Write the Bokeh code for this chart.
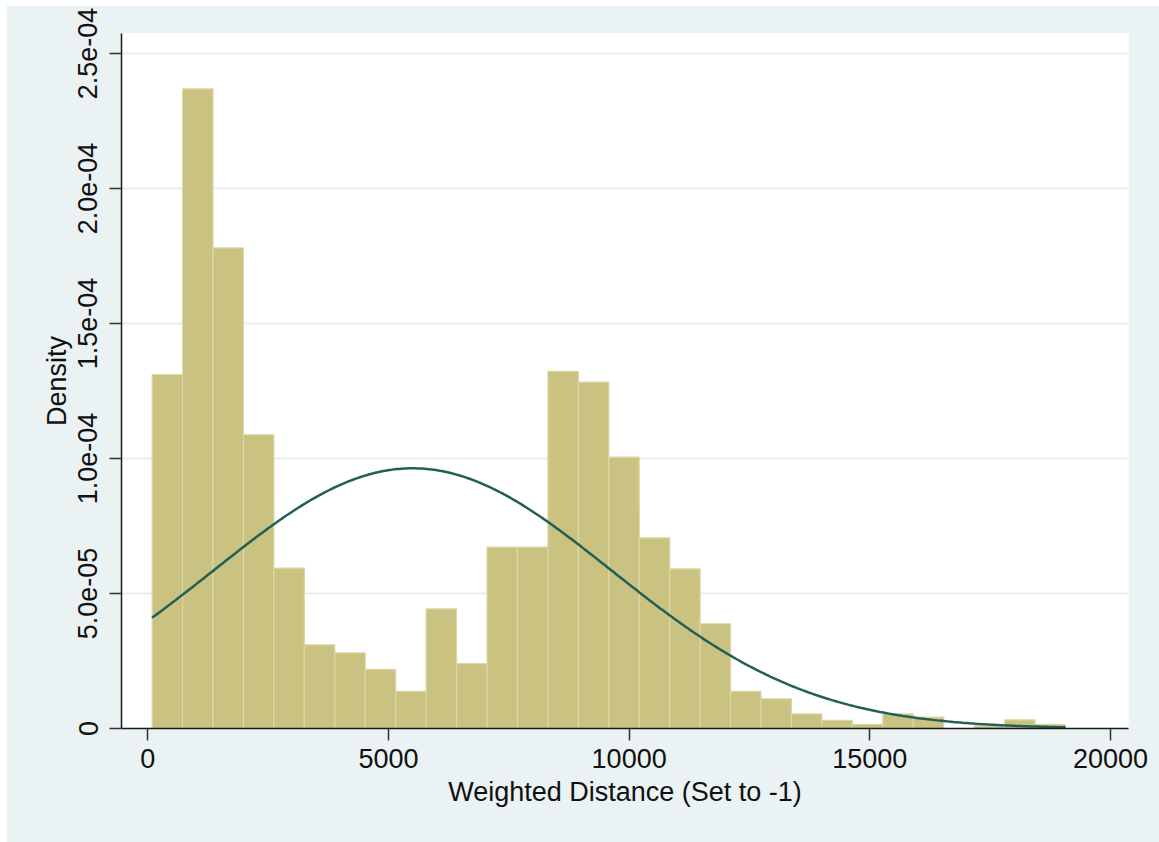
import numpy as np
from bokeh.plotting import figure
from bokeh.models import FixedTicker, CustomJSTickFormatter, ColumnDataSource
from bokeh.embed import file_html
from bokeh.resources import INLINE

# Histogram of weighted distance: bin layout and density per bin
bin_start = 90.0
bin_width = 632.5
density = [
    1.311e-4, 2.369e-4, 1.780e-4, 1.088e-4, 5.94e-5,
    3.10e-5, 2.80e-5, 2.19e-5, 1.38e-5, 4.43e-5,
    2.40e-5, 6.72e-5, 6.72e-5, 1.323e-4, 1.283e-4,
    1.005e-4, 7.06e-5, 5.91e-5, 3.88e-5, 1.38e-5,
    1.10e-5, 5.4e-6, 3.0e-6, 1.5e-6, 5.4e-6,
    4.2e-6, 0.0, 1.0e-6, 3.2e-6, 1.5e-6,
]

# Normal density overlay parameters
normal_mean = 5500.0
normal_sd = 4140.0

x_ticks = [0, 5000, 10000, 15000, 20000]
y_ticks = [0, 5e-5, 1e-4, 1.5e-4, 2e-4, 2.5e-4]

x_title = "Weighted Distance (Set to -1)"
y_title = "Density"

# ---- derived geometry
edges = bin_start + bin_width * np.arange(len(density) + 1)
bars = ColumnDataSource(dict(left=edges[:-1], right=edges[1:], top=density))

xs = np.linspace(edges[0], edges[-1], 400)
ys = np.exp(-0.5 * ((xs - normal_mean) / normal_sd) ** 2) / (normal_sd * np.sqrt(2 * np.pi))

FONT = "Liberation Sans"
BG = "#EAF2F3"

p = figure(
    width=1153, height=837,
    x_range=(-546, 20374), y_range=(0, 2.574e-4),
    output_backend="svg", toolbar_location=None,
    min_border_left=115, min_border_right=31,
    min_border_top=28, min_border_bottom=114,
    background_fill_color="white", border_fill_color=BG,
)
p.margin = (5, 0, 0, 6)
p.outline_line_color = None

p.quad(left="left", right="right", bottom=0, top="top", source=bars,
       fill_color="#C9C280", line_color="#DCD7A4", line_width=1.2)
p.line(xs, ys, line_color="#225F55", line_width=2.5)

# grid: horizontal only
p.xgrid.grid_line_color = None
p.ygrid.grid_line_color = "#E6EEF0"
p.ygrid.grid_line_width = 2
p.ygrid.ticker = FixedTicker(ticks=y_ticks)

p.xaxis.ticker = FixedTicker(ticks=x_ticks)
p.yaxis.ticker = FixedTicker(ticks=y_ticks)
p.yaxis.formatter = CustomJSTickFormatter(code="""
    if (tick == 0) { return "0"; }
    const parts = tick.toExponential(1).split("e");
    const sign = parts[1][0];
    let d = parts[1].slice(1);
    if (d.length < 2) { d = "0" + d; }
    return parts[0] + "e" + sign + d;
""")
p.yaxis.major_label_orientation = "vertical"

for ax in (p.xaxis[0], p.yaxis[0]):
    ax.axis_line_color = "#1a1a1a"
    ax.axis_line_width = 1.5
    ax.major_tick_line_color = "#333333"
    ax.major_tick_line_width = 1.5
    ax.major_tick_out = 12
    ax.major_tick_in = 0
    ax.minor_tick_out = 0
    ax.minor_tick_in = 0
    ax.major_label_text_font = FONT
    ax.major_label_text_font_size = "27px"
    ax.major_label_text_color = "#111111"
    ax.axis_label_text_font = FONT
    ax.axis_label_text_font_size = "27px"
    ax.axis_label_text_font_style = "normal"
    ax.axis_label_text_color = "#111111"

p.xaxis.major_label_standoff = 8
p.xaxis.axis_label_standoff = 6
p.yaxis.major_label_standoff = 12
p.yaxis.axis_label_standoff = 4

p.xaxis.axis_label = x_title
p.yaxis.axis_label = y_title

open("out.html", "w").write(file_html(p, INLINE))
